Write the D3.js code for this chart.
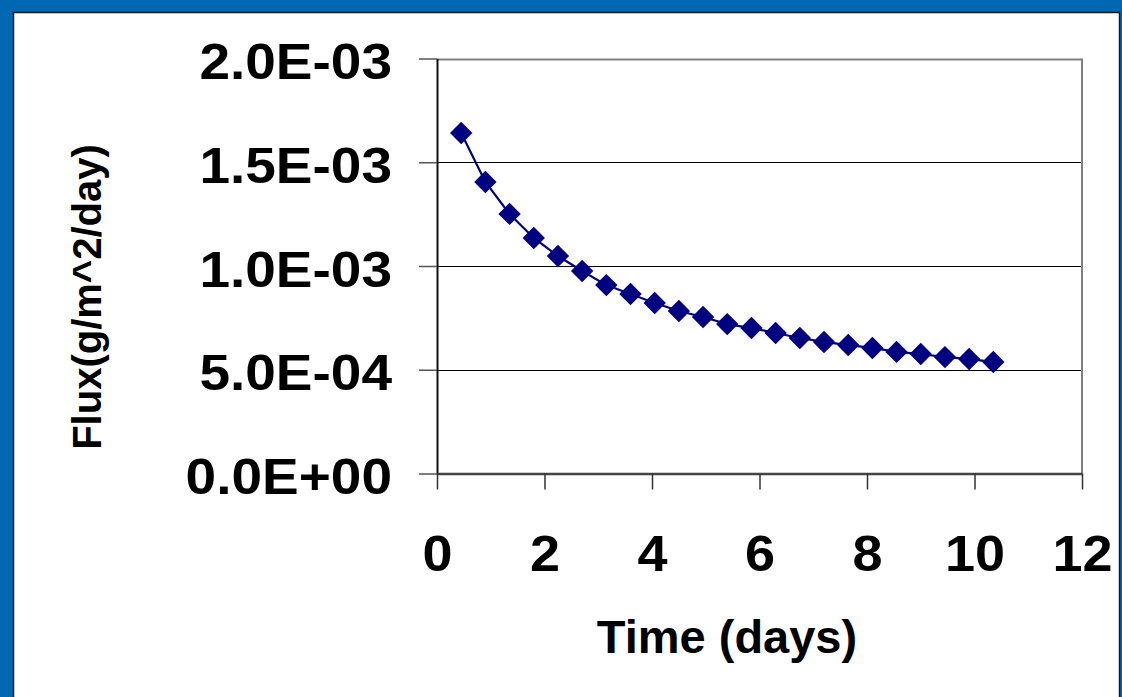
<!DOCTYPE html>
<html>
    <head>
        <meta charset="utf-8">
        <title> Flux vs time </title>
        <script type="text/javascript" src="https://d3js.org/d3.v7.min.js"></script>
        <style>
            body {margin: 0; background: #0067b3;}
            svg {display: block;}
            text {font-family: "Liberation Sans", Arial, sans-serif; font-weight: bold; fill: #000;}
        </style>
    </head>
    <body>
        <script>
            // time in days
            var days = [0.45, 0.9, 1.35, 1.8, 2.25, 2.7, 3.15, 3.6, 4.05, 4.5, 4.95, 5.4,
                        5.85, 6.3, 6.75, 7.2, 7.65, 8.1, 8.55, 9.0, 9.45, 9.9, 10.35];
            // flux, g/m^2/day
            var flux = [1.641e-3, 1.405e-3, 1.251e-3, 1.135e-3, 1.048e-3, 0.976e-3, 0.908e-3, 0.865e-3,
                        0.822e-3, 0.783e-3, 0.754e-3, 0.720e-3, 0.701e-3, 0.677e-3, 0.653e-3, 0.634e-3,
                        0.619e-3, 0.605e-3, 0.586e-3, 0.576e-3, 0.561e-3, 0.552e-3, 0.537e-3];
            var xTicks = [0, 2, 4, 6, 8, 10, 12];
            var yTicks = [0, 0.0005, 0.001, 0.0015, 0.002];

            var data = days.map(function(d, i) { return {x: d, y: flux[i]}; });

            var svg = d3.select("body")
                        .append("svg")
                        .attr("width", 1122)
                        .attr("height", 697);

            // white slide panel with dark edge
            svg.append("rect")
                .attr("x", 13.5).attr("y", 12.5)
                .attr("width", 1106).attr("height", 700)
                .attr("fill", "#fff")
                .attr("stroke", "#1a1a1a")
                .attr("stroke-width", 1.5);

            var x = d3.scaleLinear().domain([0, 12]).range([437, 1082]);
            var y = d3.scaleLinear().domain([0, 0.002]).range([473.5, 58.5]);

            function sci(d) {
                var parts = d.toExponential(1).split("e");
                var e = +parts[1];
                return parts[0].toUpperCase() + "E" + (e < 0 ? "-" : "+") + String(Math.abs(e)).padStart(2, "0");
            }

            // gridlines
            svg.selectAll(".grid")
                .data(yTicks.slice(1))
                .enter()
                .append("line")
                .attr("class", "grid")
                .attr("x1", x(0)).attr("x2", x(12))
                .attr("y1", function(d) { return Math.round(y(d)) + 0.5; })
                .attr("y2", function(d) { return Math.round(y(d)) + 0.5; })
                .attr("stroke", function(d) { return d === 0.002 ? "#808080" : "#000"; })
                .attr("stroke-width", function(d) { return d === 0.002 ? 2 : 1; });

            // right border of the plot area
            svg.append("line")
                .attr("x1", x(12)).attr("x2", x(12))
                .attr("y1", y(0.002)).attr("y2", y(0))
                .attr("stroke", "#808080").attr("stroke-width", 2);

            var yAxis = svg.append("g")
                .attr("transform", "translate(" + x(0) + ",0)")
                .call(d3.axisLeft(y).tickValues(yTicks).tickFormat(sci).tickSize(18).tickSizeOuter(0).tickPadding(27));

            var xAxis = svg.append("g")
                .attr("transform", "translate(0," + y(0) + ")")
                .call(d3.axisBottom(x).tickValues(xTicks).tickFormat(d3.format("d")).tickSize(16).tickSizeOuter(0).tickPadding(46));

            yAxis.select(".domain").attr("stroke", "#111").attr("stroke-width", 2);
            xAxis.select(".domain").attr("stroke", "#444").attr("stroke-width", 2.5);
            yAxis.selectAll(".tick line").attr("stroke", "#555").attr("stroke-width", 1.5);
            xAxis.selectAll(".tick line").attr("stroke", "#333").attr("stroke-width", 1.5);
            yAxis.selectAll("text")
                .attr("font-size", 50).attr("font-family", null).attr("fill", "#000")
                .attr("dy", "0.4em")
                .attr("lengthAdjust", "spacingAndGlyphs")
                .attr("textLength", function() { return this.getComputedTextLength() * 1.1; });
            xAxis.selectAll("text")
                .attr("font-size", 50).attr("font-family", null).attr("fill", "#000")
                .attr("lengthAdjust", "spacingAndGlyphs")
                .attr("textLength", function() { return this.getComputedTextLength() * 1.08; });

            // series line and markers
            var line = d3.line()
                .x(function(d) { return x(d.x); })
                .y(function(d) { return y(d.y); });

            svg.append("path")
                .datum(data)
                .attr("fill", "none")
                .attr("stroke", "#000080")
                .attr("stroke-width", 2.2)
                .attr("d", line);

            svg.selectAll(".pt")
                .data(data)
                .enter()
                .append("path")
                .attr("class", "pt")
                .attr("d", d3.symbol().type(d3.symbolDiamond2).size(320))
                .attr("transform", function(d) { return "translate(" + x(d.x) + "," + y(d.y) + ")"; })
                .attr("fill", "#000080");

            // axis titles
            svg.append("text")
                .attr("x", 727).attr("y", 653)
                .attr("text-anchor", "middle")
                .attr("font-size", 47)
                .text("Time (days)");

            svg.append("text")
                .attr("transform", "translate(101,297) rotate(-90)")
                .attr("text-anchor", "middle")
                .attr("font-size", 40)
                .text("Flux(g/m^2/day)");
        </script>
    </body>
</html>
